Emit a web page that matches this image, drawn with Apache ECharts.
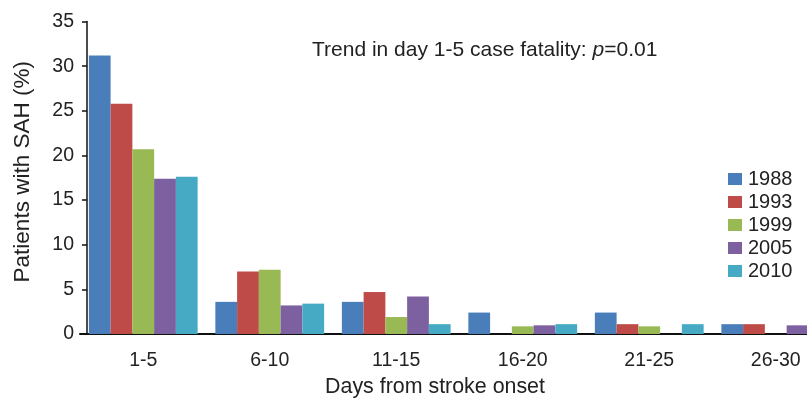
<!DOCTYPE html>
<html>
<head>
<meta charset="utf-8">
<script src="https://cdn.jsdelivr.net/npm/echarts@6/dist/echarts.min.js"></script>
<style>
html,body{margin:0;padding:0;background:#fff;}
#chart{width:807px;height:398px;}
</style>
</head>
<body>
<div id="chart"></div>
<script>
const categories = ['1-5', '6-10', '11-15', '16-20', '21-25', '26-30'];
const years = ['1988', '1993', '1999', '2005', '2010'];
const v1988 = [31.2, 3.6, 3.6, 2.4, 2.4, 1.1];
const v1993 = [25.8, 7.0, 4.7, 0, 1.1, 1.1];
const v1999 = [20.7, 7.2, 1.9, 0.86, 0.86, 0];
const v2005 = [17.4, 3.2, 4.2, 0.97, 0, 0.97];
const v2010 = [17.6, 3.4, 1.1, 1.1, 1.1, 0];
const yTicks = [0, 5, 10, 15, 20, 25, 30, 35];

const seriesValues = [v1988, v1993, v1999, v2005, v2010];
const colors = ['#4A7EBB', '#BE4B48', '#98B954', '#7D60A0', '#46AAC5'];
const textColor = '#222222';
const font = 'Liberation Sans, Arial, sans-serif';

const chart = echarts.init(document.getElementById('chart'));
chart.setOption({
  animation: false,
  color: colors,
  textStyle: { fontFamily: font, color: textColor },
  title: {
    left: 307, top: 35,
    text: '{a|Trend in day 1-5 case fatality: }{b|p}{a|=0.01}',
    textStyle: {
      fontWeight: 'normal',
      rich: {
        a: { fontSize: 21, fontFamily: font, color: textColor, fontWeight: 'normal' },
        b: { fontSize: 21, fontFamily: font, color: textColor, fontStyle: 'italic', fontWeight: 'normal' }
      }
    }
  },
  legend: {
    orient: 'vertical',
    left: 723, top: 164,
    itemWidth: 14, itemHeight: 12,
    itemGap: 3,
    icon: 'rect',
    data: years,
    textStyle: { fontSize: 20, color: textColor, fontFamily: font, padding: [0, 0, 0, 1] }
  },
  grid: { left: 80, top: 21.5, width: 759, bottom: 64, containLabel: false, outerBoundsMode: 'none' },
  xAxis: {
    type: 'category',
    data: categories,
    axisLine: { lineStyle: { color: '#111', width: 2 } },
    axisTick: { show: false },
    axisLabel: { fontSize: 19.5, color: textColor, margin: 17 },
    name: 'Days from stroke onset',
    nameLocation: 'middle',
    nameGap: 43,
    nameTextStyle: { fontSize: 21.4, color: textColor, padding: [0, 49, 0, 0] }
  },
  yAxis: {
    type: 'value',
    min: 0, max: 35, interval: 5,
    offset: -7,
    splitLine: { show: false },
    axisLine: { show: true, lineStyle: { color: '#111', width: 1.5 } },
    axisTick: { show: true, length: 5, lineStyle: { color: '#111', width: 1.5 } },
    axisLabel: {
      fontSize: 19.5, color: textColor, margin: 13,
      formatter: function (v) { return yTicks.indexOf(v) >= 0 ? String(v) : ''; }
    },
    name: 'Patients with SAH (%)',
    nameLocation: 'middle',
    nameGap: 53,
    nameTextStyle: { fontSize: 22.5, color: textColor, padding: [0, 0, 0, 12] }
  },
  series: years.map(function (y, i) {
    return {
      name: y,
      type: 'bar',
      data: seriesValues[i],
      barGap: '0%',
      barCategoryGap: '14%',
      itemStyle: { color: colors[i] }
    };
  })
});
</script>
</body>
</html>
